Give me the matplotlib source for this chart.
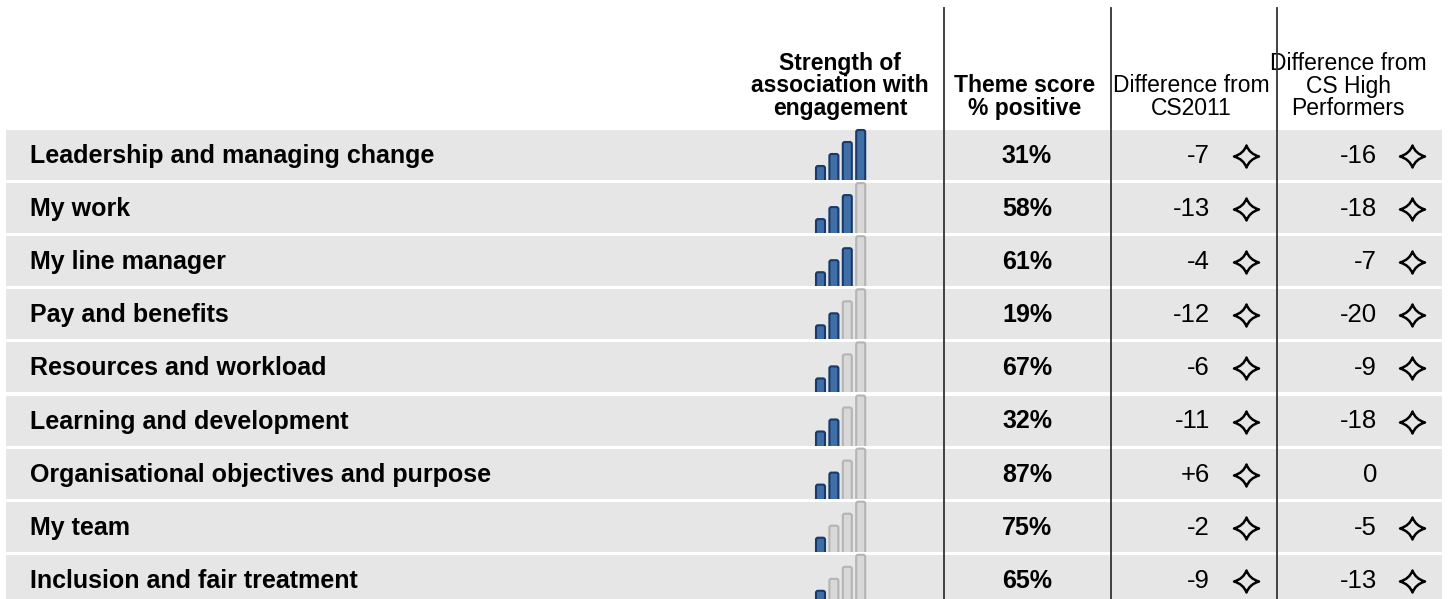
import matplotlib
matplotlib.use("Agg")
import matplotlib.pyplot as plt
from matplotlib.patches import FancyBboxPatch
from matplotlib.path import Path

plt.rcParams['font.family'] = ['Liberation Sans', 'DejaVu Sans']

# ---- data ----
themes = ["Leadership and managing change", "My work", "My line manager",
          "Pay and benefits", "Resources and workload", "Learning and development",
          "Organisational objectives and purpose", "My team", "Inclusion and fair treatment"]
strength = [4, 3, 3, 2, 2, 2, 2, 1, 1]          # filled bars out of 4
theme_score = [31, 58, 61, 19, 67, 32, 87, 75, 65]
diff_cs2011 = [-7, -13, -4, -12, -6, -11, 6, -2, -9]
sig_cs2011 = [True] * 9
diff_high = [-16, -18, -7, -20, -9, -18, 0, -5, -13]
sig_high = [True, True, True, True, True, True, False, True, True]

# ---- layout (pixel units) ----
W, H = 1451, 599
row_top0, row_pitch, row_h = 130, 53.1, 50
band_x0, band_x1 = 6, 1442
sep_x = [944, 1111, 1277]
bar_x0, bar_pitch, bar_w = 815, 13.4, 11
bar_heights = [15, 27, 39, 51]

# four pointed star with concave sides (significance marker)
c = 0.24
star = Path([(0, 1), (c, c), (1, 0), (c, -c), (0, -1), (-c, -c), (-1, 0), (-c, c), (0, 1), (0, 1)],
            [Path.MOVETO, Path.CURVE3, Path.CURVE3, Path.CURVE3, Path.CURVE3,
             Path.CURVE3, Path.CURVE3, Path.CURVE3, Path.CURVE3, Path.CLOSEPOLY])
star = Path(star.vertices * [1.0, 0.88], star.codes)

fig = plt.figure(figsize=(W / 100, H / 100), dpi=100)
ax = fig.add_axes([0, 0, 1, 1])
ax.set_xlim(0, W)
ax.set_ylim(H, 0)
ax.axis('off')


def fmt_diff(v):
    return "+%d" % v if v > 0 else "%d" % v


def mark(x, y):
    ax.plot([x], [y], marker=star, markersize=18, markerfacecolor='none',
            markeredgecolor='black', markeredgewidth=1.8, linestyle='none', zorder=3)


for i, name in enumerate(themes):
    top = row_top0 + i * row_pitch
    bottom = top + row_h
    mid = top + row_h / 2 + 1
    band = plt.Rectangle((band_x0, top), band_x1 - band_x0, row_h,
                         facecolor='#e6e6e6', edgecolor='none', zorder=1)
    ax.add_patch(band)
    ax.text(30, mid, name, fontsize=18, fontweight='bold', va='center', ha='left', zorder=3)

    # strength bars, clipped to the row so they sit flush on its bottom
    clip = plt.Rectangle((band_x0, top - 3), band_x1 - band_x0, row_h + 3,
                         transform=ax.transData, facecolor='none', edgecolor='none')
    for k in range(4):
        filled = k < strength[i]
        x = bar_x0 + k * bar_pitch
        h = bar_heights[k]
        p = FancyBboxPatch((x + 1, bottom - h + 1), bar_w - 2, h + 6,
                           boxstyle="round,pad=0,rounding_size=2",
                           facecolor='#3f6fa6' if filled else '#d8d8d8',
                           edgecolor='#173a6b' if filled else '#b4b4b4',
                           linewidth=1.5, zorder=2)
        ax.add_patch(p)
        p.set_clip_path(clip)

    ax.text(1027, mid, "%d%%" % theme_score[i], fontsize=18, fontweight='bold',
            ha='center', va='center', zorder=3)

    ax.text(1210, mid, fmt_diff(diff_cs2011[i]), fontsize=18.5, ha='right', va='center', zorder=3)
    if sig_cs2011[i]:
        mark(1246, mid)
    if sig_high[i]:
        ax.text(1377, mid, fmt_diff(diff_high[i]), fontsize=18.5, ha='right', va='center', zorder=3)
        mark(1412, mid)
    else:
        ax.text(1370, mid, fmt_diff(diff_high[i]), fontsize=18.5, ha='center', va='center', zorder=3)

# column separators
for x in sep_x:
    ax.plot([x, x], [8, H], color='#333333', linewidth=1.3, zorder=4)

# headers
ax.text(840, 86, "Strength of\nassociation with\nengagement", fontsize=16.5, fontweight='bold',
        ha='center', va='center', linespacing=0.95)
ax.text(1025, 97, "Theme score\n% positive", fontsize=16.5, fontweight='bold',
        ha='center', va='center', linespacing=0.95)
ax.text(1191, 97, "Difference from\nCS2011", fontsize=16.5,
        ha='center', va='center', linespacing=0.95)
ax.text(1348, 86, "Difference from\nCS High\nPerformers", fontsize=16.5,
        ha='center', va='center', linespacing=0.95)

fig.savefig("out.png", dpi=100)
